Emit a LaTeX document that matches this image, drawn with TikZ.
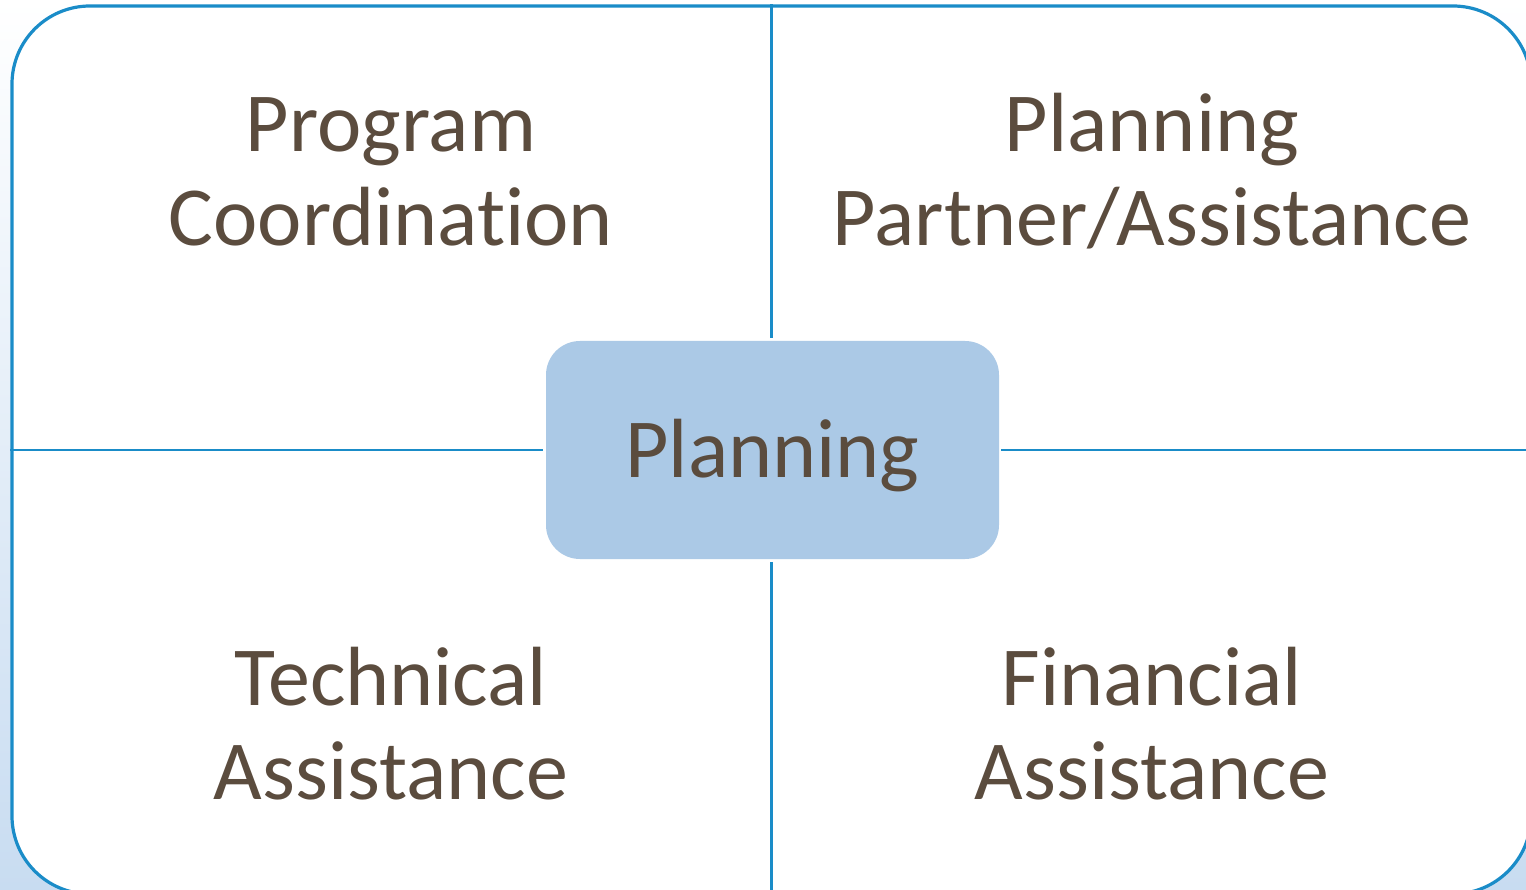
\documentclass[tikz,border=0pt]{standalone}
\usepackage{fontspec}
\setmainfont[Ligatures=NoCommon]{Carlito}
\definecolor{frameblue}{HTML}{1A8CC8}
\definecolor{boxblue}{HTML}{ABC9E6}
\definecolor{txtbrown}{HTML}{5B4C3E}
\definecolor{bgblue}{HTML}{C8DCF1}
\tikzset{
  lbl/.style={text=txtbrown, font=\fontsize{84}{94}\selectfont, align=center, inner sep=0pt, anchor=base},
  divider/.style={draw=frameblue, line width=2.4pt},
}
\begin{document}
\begin{tikzpicture}[x=1pt,y=-1pt]
\useasboundingbox (0,0) rectangle (1526,890);
\clip (0,0) rectangle (1526,890);
\shade[top color=white, middle color=white, bottom color=bgblue] (0,0) rectangle (1526,890);
\node[draw=frameblue, line width=3.2pt, fill=white, rounded corners=78pt,
      minimum width=1519pt, minimum height=888pt, inner sep=0pt] (frame) at (771.5,450) {};
\node[fill=boxblue, rounded corners=34pt, minimum width=453pt, minimum height=218pt,
      inner sep=0pt, text=txtbrown, font=\fontsize{84}{94}\selectfont,
      text height=60pt, text depth=6pt] (center) at (772.5,450) {Planning};
\draw[divider, shorten >=3pt] (frame.north) -- (frame.north |- center.north);
\draw[divider, shorten >=3pt] (frame.south) -- (frame.south |- center.south);
\draw[divider, shorten >=3pt] (frame.west) -- (center.west);
\draw[divider, shorten >=2pt] (frame.east) -- (center.east);
\node[lbl] (pc) at (391,246) {Program\\Coordination};
\node[lbl] (pp) at (1152,246) {Planning\\Partner/Assistance};
\node[lbl] (ta) at (391,799) {Technical\\Assistance};
\node[lbl] (fa) at (1152,799) {Financial\\Assistance};
\end{tikzpicture}
\end{document}
